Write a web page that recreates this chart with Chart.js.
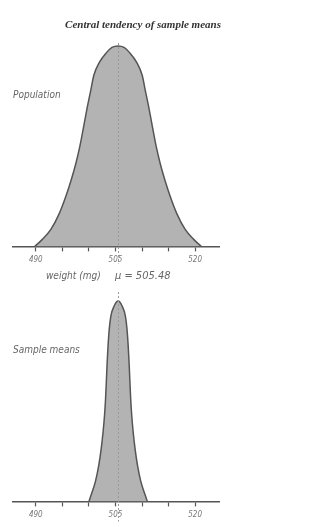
<!DOCTYPE html>
<html>
<head>
<meta charset="utf-8">
<script src="https://cdn.jsdelivr.net/npm/chart.js@4.4.0/dist/chart.umd.min.js"></script>
<style>
  html, body { margin: 0; padding: 0; background: #ffffff; }
  body { width: 312px; height: 527px; position: relative; overflow: hidden; }
  .box { position: absolute; left: 0; width: 312px; }
  #b1 { top: 0; height: 290px; }
  #b2 { top: 290px; height: 237px; }
</style>
</head>
<body>
<div class="box" id="b1"><canvas id="c1"></canvas></div>
<div class="box" id="b2"><canvas id="c2"></canvas></div>
<script>
// ---- data ----
const popWeight  = [489.81, 491.23, 492.83, 494.43, 495.66, 496.70, 497.55, 498.30, 499.06, 499.62, 500.28, 500.94, 502.00, 503.30, 504.34, 505.48,
                    506.62, 507.66, 508.96, 510.02, 510.68, 511.34, 511.90, 512.66, 513.41, 514.26, 515.30, 516.53, 518.13, 519.73, 521.15];
const popHeight  = [0.0,    0.035,  0.085,  0.165,  0.25,   0.335,  0.415,  0.50,   0.605,  0.685,  0.77,   0.855,  0.92,   0.967,  0.993,  1.0,
                    0.993,  0.967,  0.92,   0.855,  0.77,   0.685,  0.605,  0.50,   0.415,  0.335,  0.25,   0.165,  0.085,  0.035,  0.0];
const sampWeight = [500.00, 500.38, 501.23, 501.85, 502.32, 502.68, 502.94, 503.13, 503.30, 503.43, 503.60, 503.83, 504.13, 504.75, 505.50,
                    506.25, 506.87, 507.17, 507.40, 507.57, 507.70, 507.87, 508.06, 508.32, 508.68, 509.15, 509.77, 510.62, 511.00];
const sampHeight = [0.0,    0.03,   0.10,   0.18,   0.265,  0.35,   0.43,   0.51,   0.61,   0.69,   0.775,  0.86,   0.925,  0.975,  1.0,
                    0.975,  0.925,  0.86,   0.775,  0.69,   0.61,   0.51,   0.43,   0.35,   0.265,  0.18,   0.10,   0.03,   0.0];
const tickValues = [490, 495, 500, 505, 510, 515, 520];
const tickLabels = ['490', '', '', '505', '', '', '520'];
const meanWeight = 505.48;
const titleText  = 'Central tendency of sample means';
const popLabel   = 'Population';
const sampLabel  = 'Sample means';
const axisTitle  = 'weight (mg)';
const meanText   = '\u03BC = 505.48';

const X_MIN = 485.7, X_MAX = 524.5;

function toPoints(xs, ys) { return xs.map((x, i) => ({ x: x, y: ys[i] })); }

const meanLine = {
  id: 'meanLine',
  afterDatasetsDraw(chart, args, opts) {
    const ctx = chart.ctx, a = chart.chartArea;
    const x = Math.round(chart.scales.x.getPixelForValue(meanWeight)) + 0.5;
    ctx.save();
    ctx.strokeStyle = '#9a9a9a';
    ctx.lineWidth = 1;
    ctx.setLineDash([2, 2]);
    ctx.beginPath();
    ctx.moveTo(x, a.top);
    ctx.lineTo(x, a.bottom + opts.below);
    ctx.stroke();
    ctx.restore();
  }
};

const texts = {
  id: 'texts',
  afterDraw(chart, args, opts) {
    const ctx = chart.ctx;
    ctx.save();
    opts.items.forEach(t => {
      ctx.font = t.font;
      ctx.fillStyle = t.color;
      ctx.textAlign = t.align || 'left';
      ctx.textBaseline = 'middle';
      ctx.fillText(t.text, t.x, t.y);
    });
    ctx.restore();
  }
};

function makeChart(id, xs, ys, yMax, padding, textItems, below) {
  return new Chart(document.getElementById(id), {
    type: 'line',
    data: {
      datasets: [{
        data: toPoints(xs, ys),
        borderColor: '#555555',
        borderWidth: 1.5,
        backgroundColor: '#b3b3b3',
        fill: 'origin',
        pointRadius: 0,
        cubicInterpolationMode: 'monotone'
      }]
    },
    options: {
      responsive: true,
      maintainAspectRatio: false,
      devicePixelRatio: 1,
      animation: false,
      layout: { padding: padding },
      plugins: {
        legend: { display: false },
        tooltip: { enabled: false },
        meanLine: { below: below },
        texts: { items: textItems }
      },
      scales: {
        x: {
          type: 'linear',
          min: X_MIN,
          max: X_MAX,
          afterBuildTicks(scale) { scale.ticks = tickValues.map(v => ({ value: v })); },
          ticks: {
            autoSkip: false,
            maxRotation: 0,
            padding: 4,
            color: '#777777',
            font: { family: 'DejaVu Sans Condensed', size: 8, style: 'italic' },
            callback(value) {
              const i = tickValues.indexOf(value);
              return i >= 0 ? tickLabels[i] : '';
            }
          },
          grid: {
            drawOnChartArea: false,
            drawTicks: true,
            tickLength: 5,
            tickWidth: 1.2,
            tickColor: '#555555'
          },
          border: { display: true, color: '#555555', width: 1.5 }
        },
        y: {
          display: false,
          min: 0,
          max: yMax
        }
      }
    },
    plugins: [meanLine, texts]
  });
}

makeChart('c1', popWeight, popHeight, 1.015,
  { left: 13, right: 93, top: 43, bottom: 21 },
  [
    { text: titleText, x: 143, y: 25, align: 'center', color: '#333333', font: 'italic bold 11px "Liberation Sans Narrow"' },
    { text: popLabel, x: 13, y: 95, color: '#666666', font: 'italic 10px "DejaVu Sans Condensed"' },
    { text: axisTitle, x: 46, y: 276, color: '#666666', font: 'italic 10px "DejaVu Sans Condensed"' },
    { text: meanText, x: 115, y: 276, color: '#666666', font: 'italic 11px "DejaVu Sans Condensed"' }
  ], 17);

makeChart('c2', sampWeight, sampHeight, 1.045,
  { left: 13, right: 93, top: 2, bottom: 3 },
  [
    { text: sampLabel, x: 13, y: 60, color: '#666666', font: 'italic 10px "DejaVu Sans Condensed"' }
  ], 20);
</script>
</body>
</html>
